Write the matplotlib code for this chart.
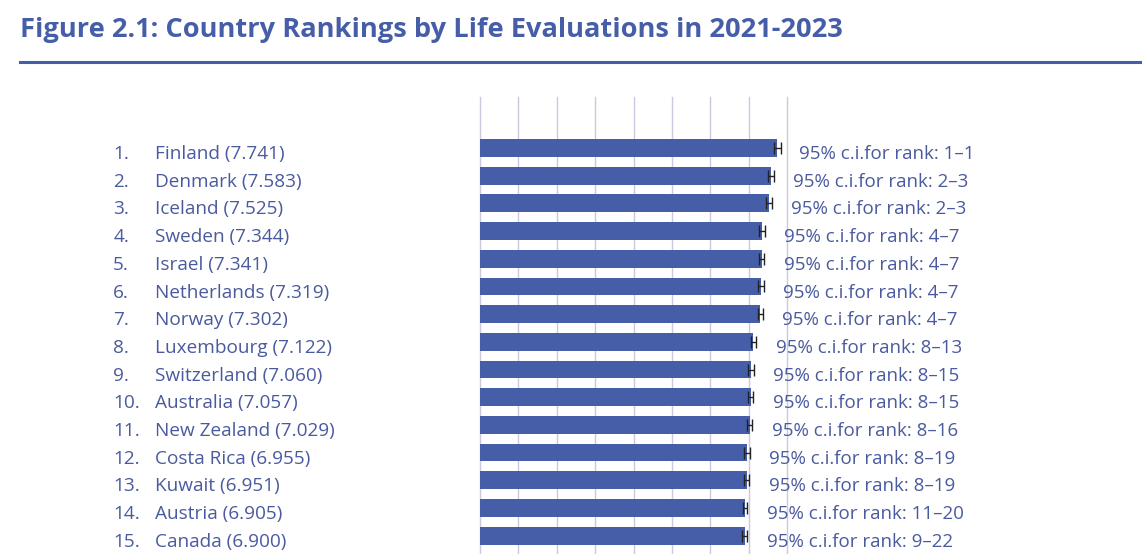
import numpy as np
import matplotlib.pyplot as plt

# Data
ranks = list(range(1, 16))
countries = ['Finland', 'Denmark', 'Iceland', 'Sweden', 'Israel', 'Netherlands',
             'Norway', 'Luxembourg', 'Switzerland', 'Australia', 'New Zealand',
             'Costa Rica', 'Kuwait', 'Austria', 'Canada']
scores = [7.741, 7.583, 7.525, 7.344, 7.341, 7.319, 7.302, 7.122, 7.060,
          7.057, 7.029, 6.955, 6.951, 6.905, 6.900]
errors = [0.09, 0.08, 0.08, 0.07, 0.07, 0.07, 0.07, 0.07, 0.07,
          0.07, 0.07, 0.07, 0.07, 0.06, 0.06]
ci_ranks = ['1–1', '2–3', '2–3', '4–7', '4–7', '4–7', '4–7', '8–13', '8–15',
            '8–15', '8–16', '8–19', '8–19', '11–20', '9–22']

bar_color = '#465da8'
text_color = '#4a5a9f'
plt.rcParams['font.family'] = ['Open Sans', 'DejaVu Sans']

fig = plt.figure(figsize=(11.42, 5.54), dpi=100)
W, H = 1142, 554
px = 38.4  # pixels per unit on the x axis

# Title and rule under it
fig.text(20 / W, 1 - 30 / H, 'Figure 2.1: Country Rankings by Life Evaluations in 2021-2023',
         fontsize=19.6, fontweight='bold', color=bar_color, va='center', ha='left')
fig.add_artist(plt.Line2D([20 / W, 1], [1 - 62 / H, 1 - 62 / H], color=bar_color, lw=2.2))

# Bar area
ax = fig.add_axes([480 / W, 0, (787 - 480) / W, (554 - 97) / H])
y = np.arange(len(countries))
ax.barh(y, scores, height=0.64, color=bar_color, zorder=2)
ax.errorbar(scores, y, xerr=errors, fmt='none', ecolor='#222222', elinewidth=1.0,
            capsize=4, capthick=1.0, zorder=3)
ax.set_xlim(0, 8)
ax.set_ylim(14.66, -1.84)
for g in range(9):
    ax.axvline(g, color='#c9c9df', lw=1.0, zorder=0, clip_on=False)
ax.set_xticks([])
ax.set_yticks([])
for s in ax.spines.values():
    s.set_visible(False)

for i in range(len(countries)):
    ax.text(-(480 - 113) / px, i + 0.22, f'{ranks[i]}.', fontsize=13.7, color=text_color,
            va='center', ha='left', clip_on=False)
    ax.text(-(480 - 155) / px, i + 0.22, f'{countries[i]} ({scores[i]:.3f})', fontsize=13.7,
            color=text_color, va='center', ha='left', clip_on=False)
    ax.annotate(f'95% c.i.for rank: {ci_ranks[i]}', xy=(scores[i], i + 0.22), xytext=(16, 0),
                textcoords='offset points', fontsize=13.5, color=text_color, va='center',
                ha='left', annotation_clip=False)

fig.savefig('out.png', dpi=100)
